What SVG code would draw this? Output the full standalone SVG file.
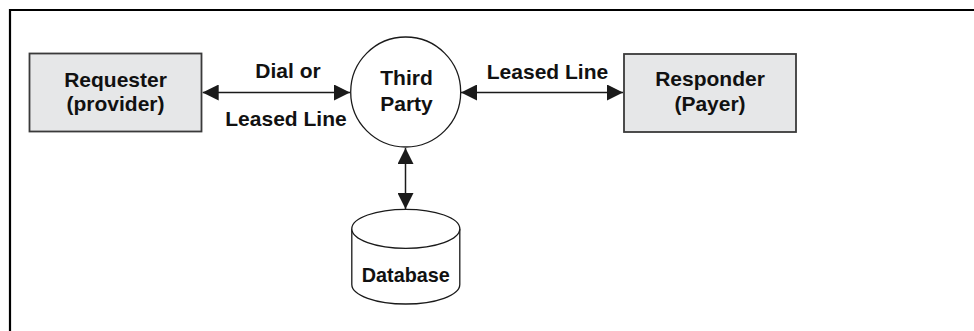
<svg xmlns="http://www.w3.org/2000/svg" width="974" height="331" viewBox="0 0 974 331">
  <style>
    .box { fill: #e6e7e8; stroke: #3a3a3a; stroke-width: 1.8; }
    .shape { fill: #ffffff; stroke: #1a1a1a; stroke-width: 1.3; }
    .txt { font-family: "Liberation Sans", Arial, sans-serif; font-weight: bold; font-size: 21px; fill: #111111; text-anchor: middle; }
    .conn { stroke: #1a1a1a; stroke-width: 1.5; fill: none; marker-start: url(#ah); marker-end: url(#ah); }
  </style>
  <defs>
    <marker id="ah" viewBox="0 0 16 16" refX="16" refY="8" markerWidth="16" markerHeight="16" markerUnits="userSpaceOnUse" orient="auto-start-reverse">
      <path d="M0,0 L16,8 L0,16 Z" fill="#1a1a1a"/>
    </marker>
  </defs>
  <rect width="974" height="331" fill="#ffffff"/>
  <path d="M10,331 V10 H974" fill="none" stroke="#000000" stroke-width="2.2"/>

  <g id="requester">
    <rect class="box" x="29.5" y="53.5" width="172" height="78"/>
    <text class="txt" x="115.5" y="86.5">Requester</text>
    <text class="txt" x="115.5" y="111">(provider)</text>
  </g>

  <g id="third-party">
    <circle class="shape" cx="405.7" cy="92" r="55"/>
    <text class="txt" x="406.5" y="85">Third</text>
    <text class="txt" x="406.5" y="111">Party</text>
  </g>

  <g id="responder">
    <rect class="box" x="624" y="54" width="172" height="78"/>
    <text class="txt" x="710" y="86">Responder</text>
    <text class="txt" x="710" y="111">(Payer)</text>
  </g>

  <g id="database">
    <path class="shape" d="M351.8,228.8 V284.5 A54,19.5 0 0 0 459.8,284.5 V228.8"/>
    <ellipse class="shape" cx="405.8" cy="228.8" rx="54" ry="19.5"/>
    <text class="txt" x="405.8" y="281.7" textLength="88" lengthAdjust="spacingAndGlyphs">Database</text>
  </g>

  <g id="connectors">
    <line class="conn" x1="202.7" y1="92.5" x2="350" y2="92.5"/>
    <line class="conn" x1="461" y1="92.5" x2="623" y2="92.5"/>
    <line class="conn" x1="405.5" y1="148" x2="405.5" y2="209"/>
    <text class="txt" x="288" y="78.3">Dial or</text>
    <text class="txt" x="286" y="126">Leased Line</text>
    <text class="txt" x="547.5" y="79.3">Leased Line</text>
  </g>
</svg>
